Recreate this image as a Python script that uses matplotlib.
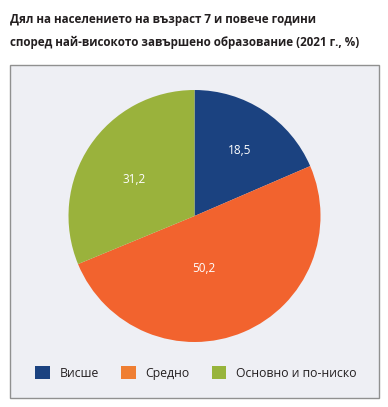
import matplotlib.pyplot as plt
from matplotlib.patches import Rectangle, Patch

plt.rcParams['font.family'] = ['Open Sans', 'DejaVu Sans']

# data
categories = ["Висше", "Средно", "Основно и по-ниско"]
shares = [18.5, 50.2, 31.2]
value_labels = ["18,5", "50,2", "31,2"]
title = "Дял на населението на възраст 7 и повече години\nспоред най-високото завършено образование (2021 г., %)"

pie_colors = ["#1b4280", "#f2632e", "#9ab23c"]
legend_colors = ["#1b4280", "#ef7e32", "#97b43b"]
# label spots, in pie radius units
label_pos = [(0.36, 0.52), (0.075, -0.42), (-0.48, 0.29)]

W, H = 388, 407
fig = plt.figure(figsize=(W / 100, H / 100), dpi=100)

# grey panel behind the chart
fig.patches.append(Rectangle((10 / W, 9 / H), 369 / W, 333 / H,
                             transform=fig.transFigure, facecolor="#eeeff4",
                             edgecolor="#909090", linewidth=1.0, zorder=-1))

fig.text(10 / W, 1 - 13.5 / H, title, ha="left", va="top", fontsize=8.4,
         fontweight="bold", color="#231f20", linespacing=1.95)

cx, cy, r = 194.5, 216, 126
ax = fig.add_axes([(cx - r) / W, (H - cy - r) / H, 2 * r / W, 2 * r / H])
ax.set_zorder(2)
ax.pie(shares, colors=pie_colors, startangle=90, counterclock=False,
       wedgeprops=dict(linewidth=0))
for (x, y), t in zip(label_pos, value_labels):
    ax.text(x, y, t, ha="center", va="center", color="white", fontsize=8.5)
ax.set_xlim(-1, 1)
ax.set_ylim(-1, 1)
ax.set_aspect("equal")
ax.axis("off")

handles = [Patch(facecolor=c, edgecolor="none") for c in legend_colors]
fig.legend(handles, categories, loc="center", bbox_to_anchor=(196 / W, 1 - 373 / H),
           ncol=3, frameon=False, fontsize=8.8, handlelength=1.2, handleheight=1.2,
           handletextpad=0.8, columnspacing=1.8, labelcolor="#231f20")

fig.savefig("out.png", dpi=100)
